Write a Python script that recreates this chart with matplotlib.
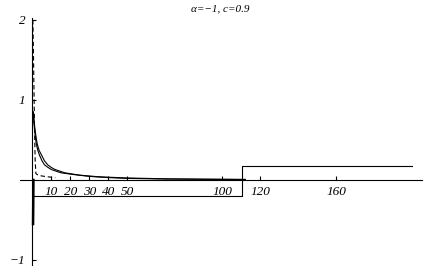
import numpy as np
import matplotlib.pyplot as plt

# values
title = "α=−1, c=0.9"
xticks = [10, 20, 30, 40, 50, 100, 120, 160]
yticks = [-1, 1, 2]

# solid decaying curves (two close together)
x_inner = [0.3, 0.6, 1, 1.5, 2, 2.8, 3.7, 5, 6.3, 8, 10, 15, 21, 30, 40, 50, 70, 90, 112]
y_inner = [0.85, 0.75, 0.65, 0.54, 0.45, 0.37, 0.31, 0.24, 0.19, 0.16, 0.13, 0.09, 0.07, 0.045, 0.03, 0.02, 0.012, 0.008, 0.005]
x_outer = [0.5, 1, 1.5, 2, 2.5, 3.5, 4.8, 6.3, 8, 10, 12, 17, 25, 35, 50, 70, 90, 112]
y_outer = [0.85, 0.7, 0.6, 0.52, 0.45, 0.37, 0.31, 0.24, 0.19, 0.155, 0.13, 0.09, 0.06, 0.04, 0.025, 0.015, 0.011, 0.008]

# dashed curve
x_dash = [0.2, 0.5, 0.8, 1.1, 1.4, 1.8, 3, 5, 8, 12]
y_dash = [2.0, 1.6, 1.1, 0.6, 0.25, 0.08, 0.06, 0.05, 0.04, 0.03]

# spike below the axis
x_spike = [0.5, 0.4, 0.3]
y_spike = [0.0, -0.3, -0.55]

# step function
x_step = [0, 110.5, 110.5, 200]
y_step = [-0.206, -0.206, 0.18, 0.18]

fig = plt.figure(figsize=(4.32, 2.66), dpi=100)
ax = fig.add_axes([0, 0, 1, 1])
ax.set_xlim(-17.1, 210.3)
ax.set_ylim(-1.075, 2.25)
ax.patch.set_alpha(0)

lw = 0.8
ax.plot(x_inner, y_inner, color='black', lw=lw)
ax.plot(x_outer, y_outer, color='black', lw=lw)
ax.plot(x_dash, y_dash, color='black', lw=lw, ls=(0, (4, 2.5)))
ax.plot(x_spike, y_spike, color='black', lw=1.8)
ax.plot(x_step, y_step, color='black', lw=lw)

for s in ['top', 'right']:
    ax.spines[s].set_visible(False)
ax.spines['left'].set_position(('data', 0))
ax.spines['bottom'].set_position(('data', 0))
ax.spines['left'].set_bounds(-1.06, 2.03)
ax.spines['bottom'].set_bounds(-6.6, 205)
ax.spines['left'].set_linewidth(lw)
ax.spines['bottom'].set_linewidth(lw)

tfont = dict(family='Liberation Serif', style='italic', size=9.5)
ax.set_xticks(xticks)
ax.set_xticklabels([str(t) for t in xticks], fontdict=tfont)
ax.set_yticks(yticks)
ax.set_yticklabels(['−1', '1', '2'], fontdict=tfont)
ax.tick_params(axis='x', direction='in', length=3, width=0.8, pad=4)
ax.tick_params(axis='y', direction='in', length=3, width=0.8, pad=5)

fig.text(0.51, 0.985, title, ha='center', va='top',
         family='Liberation Serif', style='italic', size=8)

fig.savefig('out.png', dpi=100)
